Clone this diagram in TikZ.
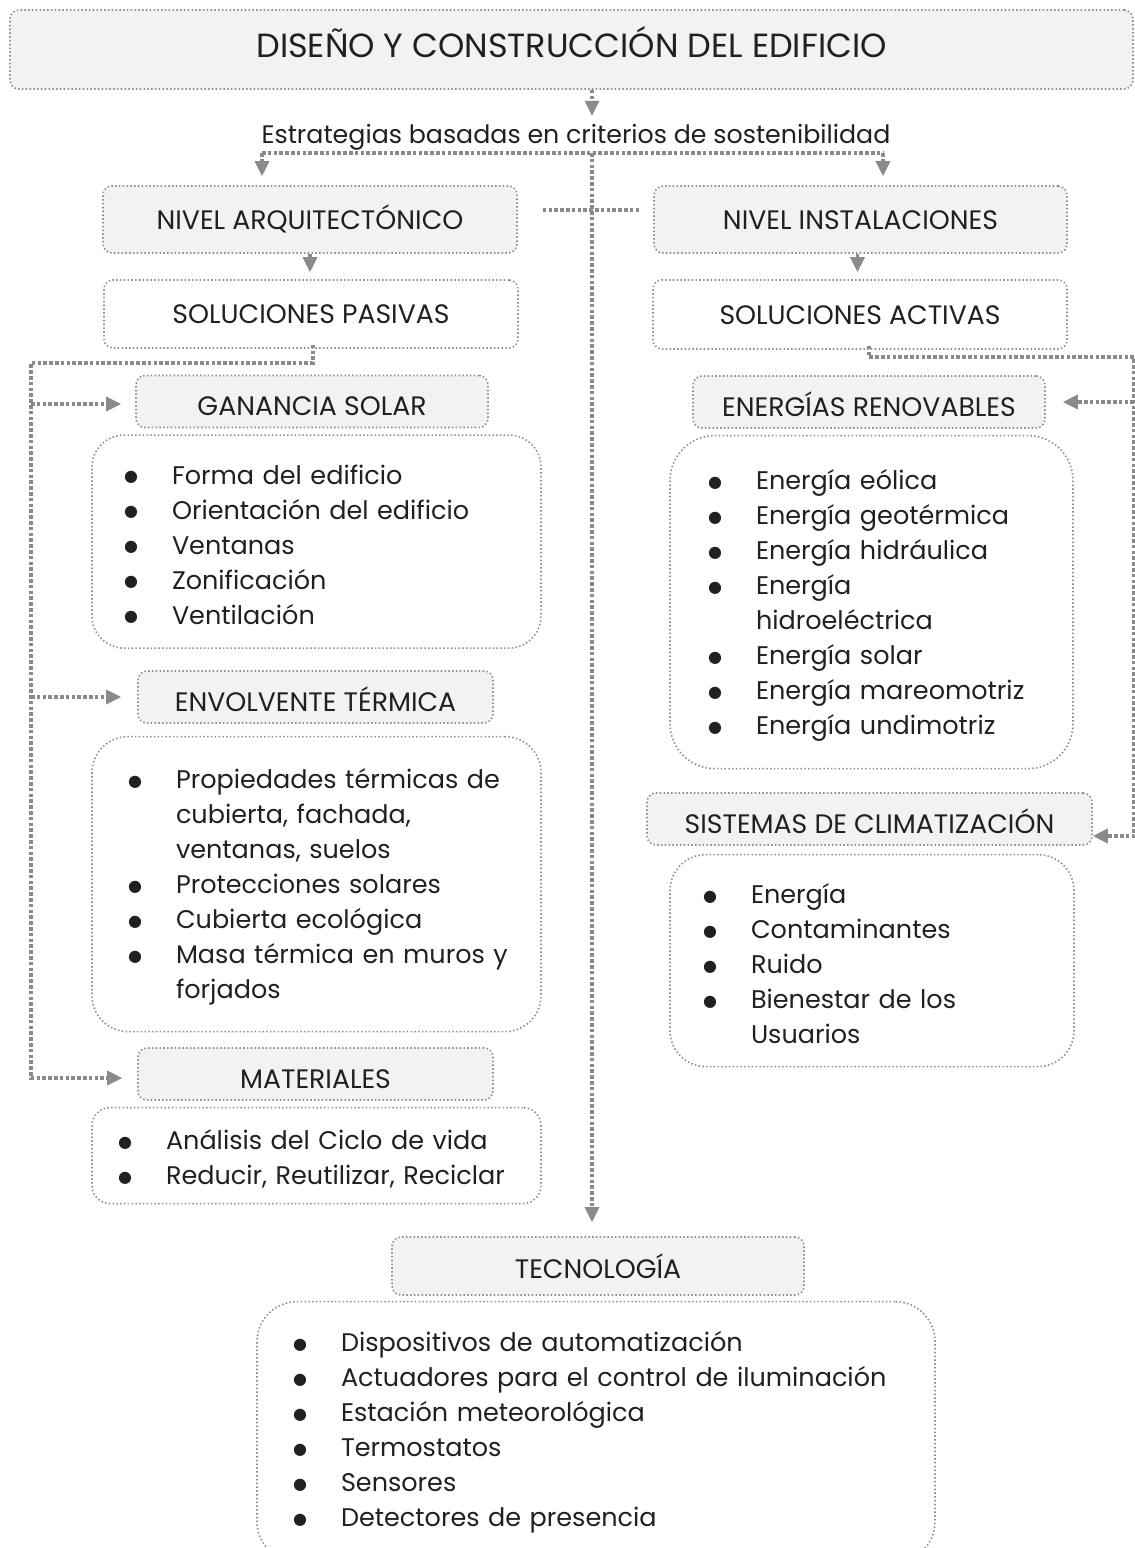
\documentclass[tikz,border=0pt]{standalone}
\usepackage{fontspec}
\setmainfont{Poppins}
\newfontfamily\symf{DejaVu Sans}
\usetikzlibrary{positioning,arrows.meta}
\definecolor{boxfill}{HTML}{F1F2F3}
\definecolor{bordc}{HTML}{8E8E8E}
\definecolor{arrc}{HTML}{8A8A8A}
\definecolor{txtc}{HTML}{231F20}
\newcommand{\dotmark}{\raisebox{2.5pt}{\fontsize{16}{16}\symf ●}}
\newcommand{\bul}[1]{\mbox{\makebox[48pt][l]{\dotmark}#1}}
\newcommand{\cont}[1]{\mbox{\hspace*{48pt}#1}}

\begin{document}
\begin{tikzpicture}[x=1pt,y=-1pt,>={Triangle[length=15pt,width=14pt]},
    text=txtc,font=\fontsize{25.5}{35}\selectfont,
    box/.style={draw=bordc,line width=1.6pt,dash pattern=on 1.5pt off 2.3pt,rounded corners=9pt,inner sep=0pt},
    top node/.style={box,fill=boxfill,minimum width=1123pt,minimum height=79pt,text height=15pt,text depth=0pt,font=\fontsize{33.5}{40}\selectfont},
    level node/.style={box,minimum height=67pt,text height=19pt,text depth=0pt,font=\fontsize{26.7}{35}\selectfont},
    hdr/.style={box,fill=boxfill,minimum height=52pt,text height=28pt,text depth=0pt,font=\fontsize{26.7}{35}\selectfont},
    lst/.style={box,align=left,rounded corners=32pt},
    conn/.style={draw=arrc,line width=3.2pt,dash pattern=on 3.6pt off 2.2pt},
    arr/.style={conn,->}]

\useasboundingbox (0,0) rectangle (1135,1548);

\node[top node] (title) at (571.5,49.5) {DISEÑO Y CONSTRUCCIÓN DEL EDIFICIO};
\node[anchor=base,font=\fontsize{25.3}{30}\selectfont] (estr) at (576,143) {Estrategias basadas en criterios de sostenibilidad};

\node[level node,fill=boxfill,minimum width=414pt] (narq) at (310,219.5) {NIVEL ARQUITECTÓNICO};
\node[level node,fill=boxfill,minimum width=413pt] (ninst) at (860.5,219.5) {NIVEL INSTALACIONES};
\node[level node,minimum width=414pt,minimum height=68pt] (spas) at (311,314) {SOLUCIONES PASIVAS};
\node[level node,minimum width=414pt,minimum height=69pt] (sact) at (860,314.5) {SOLUCIONES ACTIVAS};

\node[hdr,minimum width=352pt] (gan) at (312,401.5) {GANANCIA SOLAR};
\node[lst,text width=385pt,inner xsep=32pt,inner ysep=13.5pt,text height=35.5pt] (ganl) [below=6pt of gan,xshift=4.5pt]
    {\bul{Forma del edificio}\\ \bul{Orientación del edificio}\\ \bul{Ventanas}\\ \bul{Zonificación}\\ \bul{Ventilación}\strut};

\node[hdr,minimum width=355pt] (env) at (315.5,697) {ENVOLVENTE TÉRMICA};
\node[lst,rounded corners=36pt,text width=377pt,inner xsep=36pt,inner ysep=22.5pt,text height=29.5pt] (envl) [below=12pt of env,xshift=1pt]
    {\bul{Propiedades térmicas de}\\ \cont{cubierta, fachada,}\\ \cont{ventanas, suelos}\\ \bul{Protecciones solares}\\ \bul{Cubierta ecológica}\\ \bul{Masa térmica en muros y}\\ \cont{forjados}\strut};

\node[hdr,minimum width=355pt] (mat) at (315.5,1074) {MATERIALES};
\node[lst,rounded corners=18pt,text width=397pt,inner xsep=26pt,inner ysep=8.5pt,text height=33.5pt] (matl) [below=6pt of mat,xshift=1pt]
    {\bul{Análisis del Ciclo de vida}\\ \bul{Reducir, Reutilizar, Reciclar}\strut};

\node[hdr,minimum width=352pt] (ener) at (869,402) {ENERGÍAS RENOVABLES};
\node[lst,rounded corners=45pt,text width=327pt,inner xsep=38pt,inner ysep=23.5pt,text height=30.5pt] (enerl) [below=6pt of ener,xshift=2.5pt]
    {\bul{Energía eólica}\\ \bul{Energía geotérmica}\\ \bul{Energía hidráulica}\\ \bul{Energía}\\ \cont{hidroeléctrica}\\ \bul{Energía solar}\\ \bul{Energía mareomotriz}\\ \bul{Energía undimotriz}\strut};

\node[hdr,minimum width=445pt] (sis) at (869.5,819) {SISTEMAS DE CLIMATIZACIÓN};
\node[lst,rounded corners=36pt,text width=338pt,inner xsep=33pt,inner ysep=12.5pt,text height=36.5pt] (sisl) [below=8pt of sis,xshift=2.5pt]
    {\bul{Energía}\\ \bul{Contaminantes}\\ \bul{Ruido}\\ \bul{Bienestar de los}\\ \cont{Usuarios}\strut};

\node[hdr,minimum width=412pt,minimum height=58pt,text height=25pt] (tec) at (598,1266) {TECNOLOGÍA};
\node[lst,rounded corners=40pt,text width=606pt,inner xsep=36pt,inner ysep=24.5pt,text height=25.5pt] (tecl) [below=5pt of tec,xshift=-2pt]
    {\bul{Dispositivos de automatización}\\ \bul{Actuadores para el control de iluminación}\\ \bul{Estación meteorológica}\\ \bul{Termostatos}\\ \bul{Sensores}\\ \bul{Detectores de presencia}\strut};

\coordinate (split) at (592,153);
\coordinate (lft) at (262,153);
\coordinate (rgt) at (883,153);
\coordinate (lbus) at (31,363);
\coordinate (rbus) at (1134,357);

\draw[arr] (title.south -| split) -- ++(0,26);
\draw[conn] (lft) -- (rgt);
\draw[arr] (lft) -- ([yshift=9pt]narq.north -| lft);
\draw[arr] (rgt) -- ([yshift=9pt]ninst.north -| rgt);
\draw[arr] (split) -- ([yshift=14pt]tec.north -| split);
\draw[conn] ([xshift=25pt,yshift=9.5pt]narq.east) -- ([xshift=-12pt,yshift=9.5pt]ninst.west);
\draw[arr,shorten >=7pt] (narq.south) -- (narq.south |- spas.north);
\draw[arr,shorten >=7pt] ([xshift=-3pt]ninst.south) -- ([xshift=-3pt]ninst.south |- sact.north);

\draw[arr] ([xshift=2pt,yshift=4pt]spas.south) |- (lbus) |- ([xshift=-15pt,yshift=-4pt]mat.west);
\draw[arr] ([yshift=-2.5pt]lbus |- gan.west) -- ([xshift=-14pt,yshift=-2.5pt]gan.west);
\draw[arr] (lbus |- env.west) -- ([xshift=-16pt]env.west);

\draw[arr] ([xshift=9pt,yshift=4pt]sact.south) |- (rbus) |- ([yshift=-17pt]sis.east);
\draw[arr] (rbus |- ener.east) -- ([xshift=17pt]ener.east);
\end{tikzpicture}
\end{document}
